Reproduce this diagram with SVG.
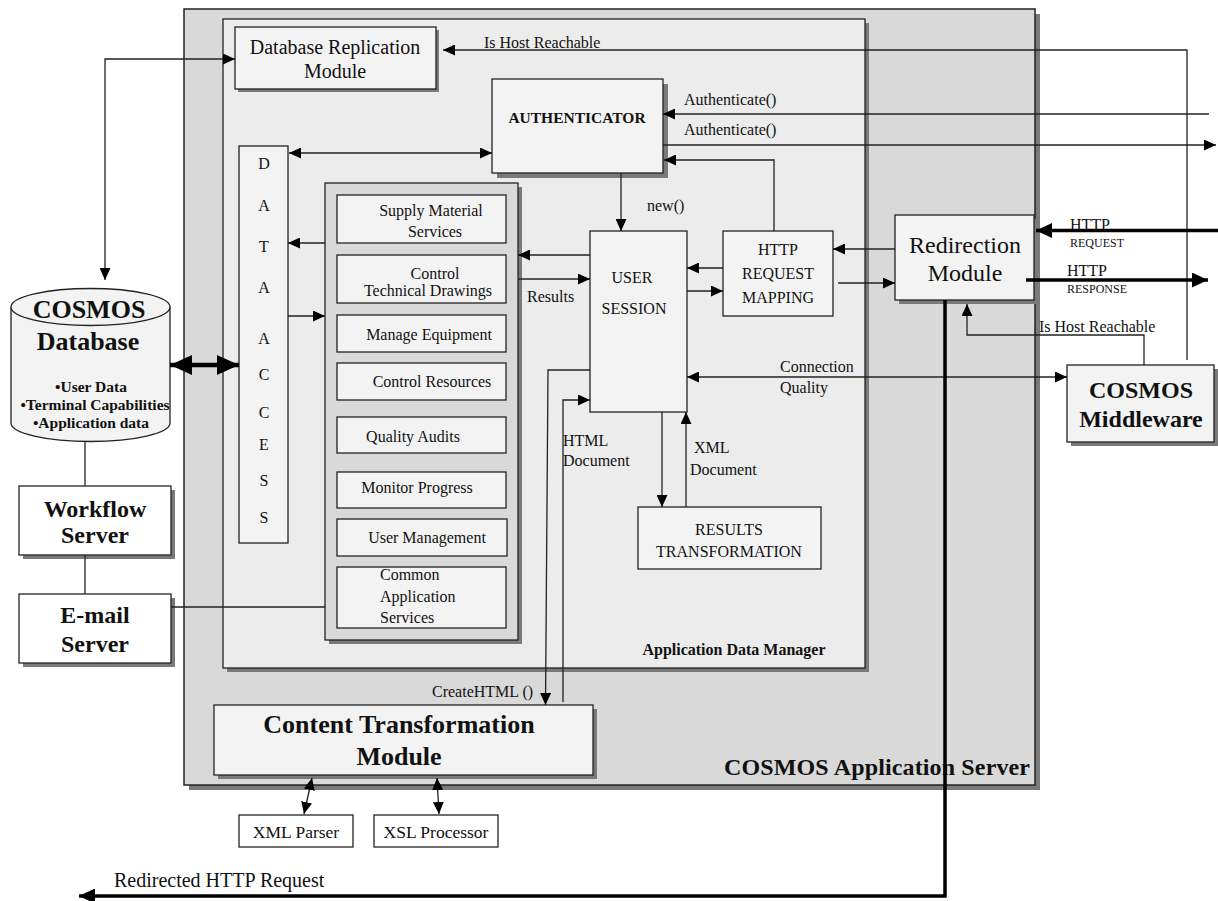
<svg xmlns="http://www.w3.org/2000/svg" width="1218" height="901" viewBox="0 0 1218 901">
<defs>
<style>
text{font-family:"Liberation Serif","Times New Roman",serif;fill:#111}
.t16{font-size:16px}
.t12{font-size:12px}
.mid{text-anchor:middle}
.b{font-weight:bold}
.box{fill:#f3f3f3;stroke:#222;stroke-width:1.3}
.wbox{fill:#fff;stroke:#222;stroke-width:1.3}
.shadow{fill:#7a7a7a}
.ln{fill:none;stroke:#222;stroke-width:1.3}
.thick{fill:none;stroke:#000;stroke-width:3.5}
.a{marker-end:url(#arr)}
.aa{marker-end:url(#arr);marker-start:url(#arr)}
</style>
<marker id="arr" viewBox="0 0 12 11" refX="12" refY="5.5" markerWidth="12" markerHeight="11" markerUnits="userSpaceOnUse" orient="auto-start-reverse"><path d="M0,0 L12,5.5 L0,11 z" fill="#000"/></marker>
<marker id="arrBig" viewBox="0 0 16 15" refX="16" refY="7.5" markerWidth="16" markerHeight="15" markerUnits="userSpaceOnUse" orient="auto-start-reverse"><path d="M0,0 L16,7.5 L0,15 z" fill="#000"/></marker>
<marker id="arrHuge" viewBox="0 0 22 20" refX="22" refY="10" markerWidth="22" markerHeight="20" markerUnits="userSpaceOnUse" orient="auto-start-reverse"><path d="M0,0 L22,10 L0,20 z" fill="#000"/></marker>
</defs>
<rect width="1218" height="901" fill="#fff"/>

<g id="cosmos-application-server">
<rect class="shadow" x="189" y="14" width="851" height="776"/>
<rect x="184" y="9" width="851" height="776" fill="#d9d9d9" stroke="#222" stroke-width="1.5"/>
<text class="b" x="724" y="775" style="font-size:24px" textLength="306" lengthAdjust="spacing">COSMOS Application Server</text>
</g>

<g id="application-data-manager">
<rect class="shadow" x="227" y="23" width="642" height="649"/>
<rect x="223" y="19" width="642" height="649" fill="#ececec" stroke="#222" stroke-width="1.3"/>
<text class="t16 b mid" x="734" y="655">Application Data Manager</text>
</g>

<g id="database-replication-module">
<rect class="shadow" x="238" y="30" width="201" height="62"/>
<rect class="box" x="235" y="27" width="201" height="62"/>
<text class="mid" x="335" y="54" style="font-size:20px">Database Replication</text>
<text class="mid" x="335" y="78" style="font-size:20px">Module</text>
</g>

<g id="authenticator">
<rect class="shadow" x="497" y="84" width="171" height="94"/>
<rect class="box" x="492" y="79" width="171" height="94"/>
<text class="b mid" x="577" y="123" style="font-size:15.5px">AUTHENTICATOR</text>
</g>

<g id="data-access">
<rect class="box" x="239" y="146" width="49" height="397"/>
<text class="t16 mid" x="264" y="169">D</text>
<text class="t16 mid" x="264" y="211">A</text>
<text class="t16 mid" x="264" y="252">T</text>
<text class="t16 mid" x="264" y="293">A</text>
<text class="t16 mid" x="264" y="344">A</text>
<text class="t16 mid" x="264" y="380">C</text>
<text class="t16 mid" x="264" y="418">C</text>
<text class="t16 mid" x="264" y="450">E</text>
<text class="t16 mid" x="264" y="486">S</text>
<text class="t16 mid" x="264" y="523">S</text>
</g>

<g id="application-services">
<rect class="shadow" x="329" y="187" width="193" height="457"/>
<rect x="325" y="183" width="193" height="457" fill="#d9d9d9" stroke="#222" stroke-width="1.3"/>
</g>
<g id="supply-material-services">
<rect class="box" x="337" y="195" width="169" height="48"/>
<text class="t16 mid" x="431" y="216">Supply Material</text>
<text class="t16 mid" x="435" y="237">Services</text>
</g>
<g id="control-technical-drawings">
<rect class="box" x="337" y="255" width="169" height="48"/>
<text class="t16 mid" x="435" y="279">Control</text>
<text class="t16 mid" x="428" y="296">Technical Drawings</text>
</g>
<g id="manage-equipment">
<rect class="box" x="337" y="315" width="169" height="37"/>
<text class="t16 mid" x="429" y="340">Manage Equipment</text>
</g>
<g id="control-resources">
<rect class="box" x="337" y="363" width="169" height="37"/>
<text class="t16 mid" x="432" y="387">Control Resources</text>
</g>
<g id="quality-audits">
<rect class="box" x="337" y="417" width="169" height="36"/>
<text class="t16 mid" x="413" y="442">Quality Audits</text>
</g>
<g id="monitor-progress">
<rect class="box" x="337" y="472" width="169" height="36"/>
<text class="t16 mid" x="417" y="493">Monitor Progress</text>
</g>
<g id="user-management">
<rect class="box" x="337" y="519" width="170" height="37"/>
<text class="t16 mid" x="427" y="543">User Management</text>
</g>
<g id="common-application-services">
<rect class="box" x="337" y="567" width="169" height="61"/>
<text class="t16" x="380" y="580">Common</text>
<text class="t16" x="380" y="602">Application</text>
<text class="t16" x="380" y="623">Services</text>
</g>

<g id="user-session">
<rect class="box" x="590" y="231" width="97" height="181"/>
<text class="t16 mid" x="632" y="283">USER</text>
<text class="t16 mid" x="634" y="314">SESSION</text>
</g>

<g id="http-request-mapping">
<rect class="box" x="723" y="231" width="110" height="85"/>
<text class="t16 mid" x="778" y="255">HTTP</text>
<text class="t16 mid" x="778" y="279">REQUEST</text>
<text class="t16 mid" x="778" y="303">MAPPING</text>
</g>

<g id="results-transformation">
<rect class="box" x="638" y="507" width="183" height="62"/>
<text class="t16 mid" x="729" y="535">RESULTS</text>
<text class="t16 mid" x="729" y="557">TRANSFORMATION</text>
</g>

<g id="redirection-module">
<rect class="shadow" x="899" y="219" width="139" height="85"/>
<rect class="box" x="895" y="215" width="139" height="85"/>
<text class="mid" x="965" y="253" style="font-size:24px">Redirection</text>
<text class="mid" x="965" y="281" style="font-size:24px">Module</text>
</g>

<g id="cosmos-middleware">
<rect class="shadow" x="1071" y="369" width="147" height="77"/>
<rect class="box" x="1067" y="365" width="147" height="77"/>
<text class="b mid" x="1141" y="398" style="font-size:24px">COSMOS</text>
<text class="b mid" x="1141" y="427" style="font-size:24px">Middleware</text>
</g>

<g id="cosmos-database">
<path d="M11,307 V423 A79.5,18.5 0 0 0 170,423 V307" fill="#f3f3f3" stroke="#222" stroke-width="1.3"/>
<ellipse cx="90.5" cy="307" rx="79.5" ry="18.5" fill="#f3f3f3" stroke="#222" stroke-width="1.3"/>
<text class="b mid" x="89" y="318" style="font-size:26px">COSMOS</text>
<text class="b mid" x="88" y="350" style="font-size:26px">Database</text>
<text class="b mid" x="91" y="392" style="font-size:15.5px">•User Data</text>
<text class="b mid" x="95" y="410" style="font-size:15.5px">•Terminal Capabilities</text>
<text class="b mid" x="91" y="428" style="font-size:15.5px">•Application data</text>
</g>

<g id="workflow-server">
<rect class="shadow" x="23" y="490" width="152" height="69"/>
<rect class="wbox" x="19" y="486" width="152" height="69"/>
<text class="b mid" x="95" y="517" style="font-size:24px">Workflow</text>
<text class="b mid" x="95" y="543" style="font-size:24px">Server</text>
</g>

<g id="email-server">
<rect class="shadow" x="23" y="598" width="152" height="69"/>
<rect class="wbox" x="19" y="594" width="152" height="69"/>
<text class="b mid" x="95" y="623" style="font-size:24px">E-mail</text>
<text class="b mid" x="95" y="652" style="font-size:24px">Server</text>
</g>

<g id="content-transformation-module">
<rect class="shadow" x="218" y="709" width="379" height="70"/>
<rect class="box" x="214" y="705" width="379" height="70"/>
<text class="b mid" x="399" y="733" style="font-size:26px">Content Transformation</text>
<text class="b mid" x="399" y="765" style="font-size:26px">Module</text>
</g>

<g id="xml-parser">
<rect class="wbox" x="239" y="815" width="114" height="32"/>
<text class="mid" x="296" y="838" style="font-size:17.5px">XML Parser</text>
</g>

<g id="xsl-processor">
<rect class="wbox" x="374" y="815" width="124" height="32"/>
<text class="mid" x="436" y="838" style="font-size:17.5px">XSL Processor</text>
</g>

<g id="connectors">
<path class="ln aa" d="M235,59 H105 V280"/>
<path class="ln a" d="M1187,360 V50 H443"/>
<text class="t16" x="484" y="48">Is Host Reachable</text>
<path class="ln a" d="M1209,114 H663"/>
<text class="t16" x="684" y="105">Authenticate()</text>
<path class="ln a" d="M663,145 H1216"/>
<text class="t16" x="684" y="135">Authenticate()</text>
<path class="ln aa" d="M289,153 H492"/>
<path class="ln a" d="M774,231 V160 H664"/>
<path class="ln a" d="M621,173 V231"/>
<text class="t16" x="647" y="211">new()</text>
<path class="ln a" d="M590,255 H518"/>
<path class="ln a" d="M518,279 H590"/>
<text class="t16" x="527" y="302">Results</text>
<path class="ln a" d="M723,268 H687"/>
<path class="ln a" d="M687,291 H723"/>
<path class="ln a" d="M895,249 H833"/>
<path class="ln a" d="M838,283 H895"/>
<path class="thick" style="marker-end:url(#arrBig)" d="M1218,230.5 H1036"/>
<text class="t16" x="1070" y="230">HTTP</text>
<text class="t12" x="1070" y="247">REQUEST</text>
<path class="thick" style="marker-end:url(#arrBig)" d="M1026,280 H1208"/>
<text class="t16" x="1067" y="276">HTTP</text>
<text class="t12" x="1067" y="293">RESPONSE</text>
<path class="ln a" d="M325,243 H288"/>
<path class="ln a" d="M288,316 H325"/>
<path d="M170,365 H239" fill="none" stroke="#000" stroke-width="4.5" marker-start="url(#arrHuge)" marker-end="url(#arrHuge)"/>
<path class="ln" d="M85,442 V486"/>
<path class="ln" d="M85,555 V594"/>
<path class="ln" d="M171,607 H325"/>
<path class="ln a" d="M590,370 H548 L545.5,705"/>
<text class="t16" x="432" y="697">CreateHTML ()</text>
<path class="ln a" d="M563,702 V400 H590"/>
<text class="t16" x="563" y="446">HTML</text>
<text class="t16" x="563" y="466">Document</text>
<path class="ln a" d="M662,412 V507"/>
<path class="ln a" d="M686,507 V412"/>
<text class="t16" x="694" y="453">XML</text>
<text class="t16" x="690" y="475">Document</text>
<path class="ln aa" d="M687,377 H1067"/>
<text class="t16" x="780" y="372">Connection</text>
<text class="t16" x="780" y="393">Quality</text>
<path class="ln a" d="M1144,365 V335 H967 V304"/>
<text class="t16" x="1039" y="332">Is Host Reachable</text>
<path class="ln aa" d="M312,778 L304,814"/>
<path class="ln aa" d="M437,778 L439,814"/>
<path class="thick" style="marker-end:url(#arrBig)" d="M945,300 V896 H79"/>
<text x="114" y="887" style="font-size:20px">Redirected HTTP Request</text>
</g>
</svg>
